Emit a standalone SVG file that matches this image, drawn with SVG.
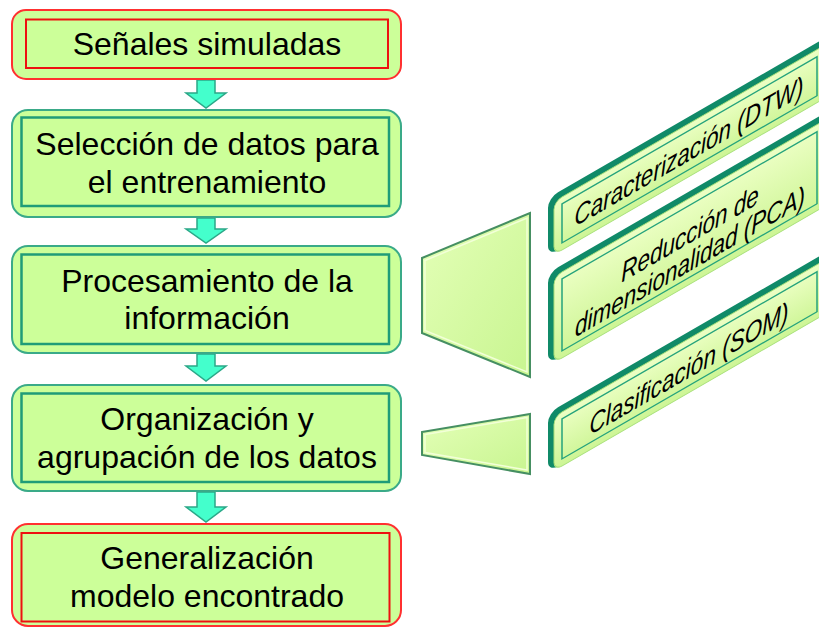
<svg xmlns="http://www.w3.org/2000/svg" width="819" height="628" viewBox="0 0 819 628">
<defs>
<linearGradient id="face" x1="0" y1="0" x2="0" y2="1">
<stop offset="0" stop-color="#ecffc4"/>
<stop offset="1" stop-color="#cdf595"/>
</linearGradient>
<linearGradient id="trap" x1="0" y1="0" x2="1" y2="1">
<stop offset="0" stop-color="#e4ffb8"/>
<stop offset="1" stop-color="#c8f590"/>
</linearGradient>
</defs>
<style>
.outer{fill:#ccff99;stroke:#3aaa88;stroke-width:2}
.inner{fill:none;stroke:#1f9c78;stroke-width:2.5}
.outer.red{stroke:#ff3030}
.inner.red{stroke:#ee1010;stroke-width:2}
.t{font-family:"Liberation Sans",Arial,sans-serif;font-size:32px;fill:#000;text-anchor:middle}
.s{font-family:"Liberation Sans",Arial,sans-serif;font-size:26px;font-style:italic;fill:#000;text-anchor:middle}
.arrow{fill:#44ffcc;stroke:#2ba888;stroke-width:1.5;stroke-linejoin:miter}
.dark{fill:#108a68}
.front{fill:url(#face);stroke:#a8e07a;stroke-width:1}
.fin{fill:none;stroke:#25a37c;stroke-width:1.5}
.trap{fill:url(#trap);stroke:#468f62;stroke-width:2;stroke-linejoin:miter}
.trapin{fill:none;stroke:#f2ffd8;stroke-width:1.5}
</style>

<g id="connectors">
<path class="arrow" d="M197,80 H215 V93 H226 L206,108 L186,93 H197 Z"/>
<path class="arrow" d="M197,218 H215 V229 H226 L206,243 L186,229 H197 Z"/>
<path class="arrow" d="M197,354 H215 V366 H226 L206,381 L186,366 H197 Z"/>
<path class="arrow" d="M197,492 H215 V507 H226 L206,522 L186,507 H197 Z"/>
<g id="bracket1">
<polygon class="trap" points="422,258 530,213 530,377 422,333"/>
<polygon class="trapin" points="425,260.5 527,218 527,372 425,330.5"/>
</g>
<g id="bracket2">
<polygon class="trap" points="422,432 530,414 530,474 422,455"/>
<polygon class="trapin" points="425,434.5 527,417.5 527,470 425,452.5"/>
</g>
</g>

<g id="n1">
<rect class="outer red" x="12" y="10" width="389" height="69" rx="14"/>
<rect class="inner red" x="26" y="19.5" width="362" height="48.5"/>
<text class="t" x="207" y="55">Señales simuladas</text>
</g>

<g id="n2">
<rect class="outer" x="12" y="110" width="389" height="107" rx="16"/>
<rect class="inner" x="21.5" y="117.5" width="367.5" height="88.5"/>
<text class="t" x="207" y="155">Selección de datos para</text>
<text class="t" x="207" y="193">el entrenamiento</text>
</g>

<g id="n3">
<rect class="outer" x="12" y="246" width="389" height="107" rx="16"/>
<rect class="inner" x="21.5" y="254.5" width="367.5" height="89.5"/>
<text class="t" x="207" y="292">Procesamiento de la</text>
<text class="t" x="207" y="329">información</text>
</g>

<g id="n4">
<rect class="outer" x="12" y="385" width="389" height="106" rx="16"/>
<rect class="inner" x="21.5" y="393.5" width="367.5" height="88.5"/>
<text class="t" x="207" y="430">Organización y</text>
<text class="t" x="207" y="468">agrupación de los datos</text>
</g>

<g id="n5">
<rect class="outer red" x="12" y="524" width="389" height="102" rx="16"/>
<rect class="inner red" x="21.5" y="533" width="368" height="88.5"/>
<text class="t" x="207" y="569">Generalización</text>
<text class="t" x="207" y="607">modelo encontrado</text>
</g>

<g id="sA">
<g transform="translate(548,0) skewY(-30)">
<rect class="dark" x="0" y="198" width="280" height="58" rx="10"/>
<rect class="front" x="6" y="205" width="276" height="53" rx="8"/>
<rect class="fin" x="14" y="212" width="255" height="39"/>
</g>
<text class="s" transform="matrix(0.866,-0.5,0,1.08,689,161)">Caracterización (DTW)</text>
</g>

<g id="sB">
<g transform="translate(548,0) skewY(-30)">
<rect class="dark" x="0" y="273" width="280" height="91" rx="10"/>
<rect class="front" x="6" y="280" width="276" height="86" rx="8"/>
<rect class="fin" x="14" y="287" width="255" height="72"/>
</g>
<text class="s" transform="matrix(0.866,-0.5,0,1.08,690,243)">Reducción de</text>
<text class="s" transform="matrix(0.866,-0.5,0,1.08,690,271)">dimensionalidad (PCA)</text>
</g>

<g id="sC">
<g transform="translate(548,0) skewY(-30)">
<rect class="dark" x="0" y="413" width="280" height="59" rx="10"/>
<rect class="front" x="6" y="420" width="276" height="54" rx="8"/>
<rect class="fin" x="14" y="427" width="255" height="40"/>
</g>
<text class="s" transform="matrix(0.866,-0.5,0,1.08,689,378)">Clasificación (SOM)</text>
</g>
</svg>
